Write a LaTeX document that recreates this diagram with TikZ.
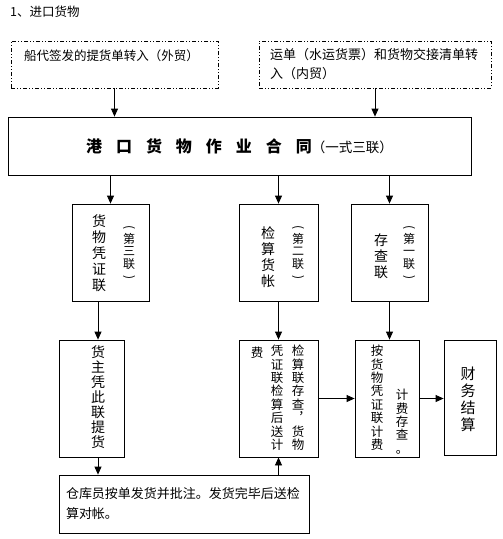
\documentclass[tikz,border=0pt]{standalone}
\usepackage{fontspec}
\setmainfont{Noto Sans CJK SC}
\usetikzlibrary{arrows.meta}

\newcommand{\gap}{\hspace{14pt}}
\newcommand{\vopen}{\rotatebox[origin=c]{-90}{(}}
\newcommand{\vclose}{\rotatebox[origin=c]{-90}{)}}

\tikzset{
  box/.style={draw, line width=0.8pt, inner sep=0pt},
  dashbox/.style={draw, line width=0.8pt, dash pattern=on 4pt off 2pt on 1pt off 2pt on 1pt off 2pt, inner ysep=0pt, align=left},
  arr/.style={line width=0.8pt, -{Triangle[length=8pt,width=7pt]}},
  vcol/.style={inner sep=0pt, align=center, font=\fontsize{14}{16}\selectfont},
  vsub/.style={inner sep=0pt, align=center, font=\fontsize{12}{12.5}\selectfont},
  vsmall/.style={inner sep=0pt, anchor=north, align=center, font=\fontsize{12.5}{13.4}\selectfont},
}

\begin{document}
\begin{tikzpicture}[x=1pt, y=-1pt]
\useasboundingbox (0,0) rectangle (503,539);

\node[anchor=west, inner sep=0pt, font=\fontsize{12.5}{15}\selectfont] (title) at (10,12) {1、进口货物};

\node[dashbox, minimum width=207, minimum height=47, text width=181, inner xsep=13pt, font=\fontsize{12.5}{19}\selectfont] (src1) at (114.5,64.5) {船代签发的提货单转入（外贸）\\ \mbox{}};
\node[dashbox, minimum width=232, minimum height=47, text width=210, inner xsep=11pt, font=\fontsize{13}{19}\selectfont] (src2) at (375,64.5) {运单（水运货票）和货物交接清单转\\入（内贸）};

\node[box, minimum width=463, minimum height=58] (contract) at (239.5,146) {{\fontsize{16}{20}\selectfont\bfseries 港\gap 口\gap 货\gap 物\gap 作\gap 业\gap 合\gap 同}{\fontsize{13.5}{16}\selectfont （一式三联）}};

\draw[arr] (src1.south) -- (src1.south |- contract.north);
\draw[arr] (src2.south) -- (src2.south |- contract.north);

% three copies
\node[box, minimum width=77, minimum height=97] (box1) at (110.5,252.5) {};
\node[vcol] (v1) at (99,253) {货\\物\\凭\\证\\联};
\node[vsub] (v1b) at (129,253) {\vopen\\第\\三\\联\\\vclose};

\node[box, minimum width=79, minimum height=97] (box2) at (278.5,252.5) {};
\node[vcol] (v2) at (268,257) {检\\算\\货\\帐};
\node[vsub] (v2b) at (298,253) {\vopen\\第\\二\\联\\\vclose};

\node[box, minimum width=77, minimum height=97] (box3) at (389.5,252.5) {};
\node[vcol] (v3) at (381,256) {存\\查\\联};
\node[vsub] (v3b) at (409,253) {\vopen\\第\\一\\联\\\vclose};

\draw[arr] (box1.north |- contract.south) -- (box1.north);
\draw[arr] (box2.north |- contract.south) -- (box2.north);
\draw[arr] (box3.north |- contract.south) -- (box3.north);

% lower row
\node[box, minimum width=65, minimum height=117] (box4) at (91.5,398.5) {};
\node[vcol, anchor=north, font=\fontsize{14}{15}\selectfont] (v4) at (98,345) {货\\主\\凭\\此\\联\\提\\货};

\node[box, minimum width=79, minimum height=117] (box5) at (278.5,398.5) {};
\node[vsmall] (c5a) at (298,345) {检\\算\\联\\存\\查\\︐\\货\\物};
\node[vsmall] (c5b) at (277,345) {凭\\证\\联\\检\\算\\后\\送\\计};
\node[vsmall] (c5c) at (257,347) {费};

\node[box, minimum width=64, minimum height=117] (box6) at (387,398.5) {};
\node[vsmall] (c6a) at (377,345) {按\\货\\物\\凭\\证\\联\\计\\费};
\node[vsmall] (c6b) at (402,389) {计\\费\\存\\查\\。};

\node[box, minimum width=52, minimum height=115] (box7) at (470,397.5) {};
\node[vcol, font=\fontsize{15}{17}\selectfont] (v7) at (468,399) {财\\务\\结\\算};

\node[box, minimum width=250, minimum height=58, text width=236, inner xsep=7pt, align=left, font=\fontsize{13}{20}\selectfont] (store) at (184,504) {仓库员按单发货并批注。发货完毕后送检\\算对帐。};

\draw[arr] (box1.south -| v4) -- (box4.north -| v4);
\draw[arr] (box2.south) -- (box2.south |- box5.north);
\draw[arr] (box3.south) -- (box3.south |- box6.north);
\draw[arr] (box4.south -| v4) -- (store.north -| v4);
\draw[arr] (store.north -| box5.south) -- (box5.south);
\draw[arr] (box5.east) -- (box6.west);
\draw[arr] (box6.east) -- (box6.east -| box7.west);

\end{tikzpicture}
\end{document}
